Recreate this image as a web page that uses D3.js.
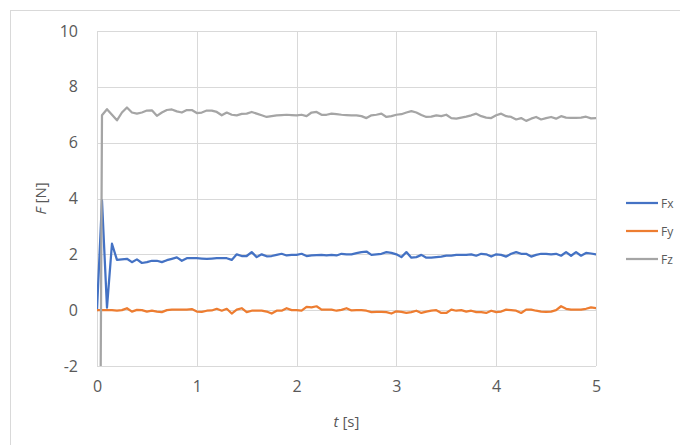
<!DOCTYPE html>
<html>
<head>
<meta charset="utf-8">
<script src="https://cdn.jsdelivr.net/npm/d3@7"></script>
<style>
  html, body { margin: 0; padding: 0; background: #fff; }
  svg { display: block; }
  text { font-family: "Open Sans", "Noto Sans", sans-serif; fill: #595959; }
</style>
</head>
<body>
<svg id="chart" width="680" height="445"></svg>
<script>
// ---- data ----
const time = [
  0.00, 0.05, 0.10, 0.15, 0.20, 0.25, 0.30, 0.35, 0.40, 0.45,
  0.50, 0.55, 0.60, 0.65, 0.70, 0.75, 0.80, 0.85, 0.90, 0.95,
  1.00, 1.05, 1.10, 1.15, 1.20, 1.25, 1.30, 1.35, 1.40, 1.45,
  1.50, 1.55, 1.60, 1.65, 1.70, 1.75, 1.80, 1.85, 1.90, 1.95,
  2.00, 2.05, 2.10, 2.15, 2.20, 2.25, 2.30, 2.35, 2.40, 2.45,
  2.50, 2.55, 2.60, 2.65, 2.70, 2.75, 2.80, 2.85, 2.90, 2.95,
  3.00, 3.05, 3.10, 3.15, 3.20, 3.25, 3.30, 3.35, 3.40, 3.45,
  3.50, 3.55, 3.60, 3.65, 3.70, 3.75, 3.80, 3.85, 3.90, 3.95,
  4.00, 4.05, 4.10, 4.15, 4.20, 4.25, 4.30, 4.35, 4.40, 4.45,
  4.50, 4.55, 4.60, 4.65, 4.70, 4.75, 4.80, 4.85, 4.90, 4.95,
  5.00
];
const fx = [
  0.00, 3.93, 0.09, 2.38, 1.80, 1.82, 1.84, 1.72, 1.82, 1.69,
  1.72, 1.77, 1.77, 1.72, 1.79, 1.84, 1.89, 1.77, 1.86, 1.86,
  1.86, 1.85, 1.84, 1.85, 1.86, 1.86, 1.86, 1.80, 2.00, 1.94,
  1.94, 2.08, 1.90, 2.00, 1.93, 1.94, 1.98, 2.02, 1.96, 1.98,
  1.98, 2.02, 1.94, 1.96, 1.97, 1.98, 1.96, 1.98, 1.96, 2.02,
  2.00, 2.00, 2.04, 2.08, 2.10, 1.98, 2.00, 2.02, 2.08, 2.05,
  2.00, 1.90, 2.08, 1.88, 1.90, 1.98, 1.88, 1.88, 1.90, 1.92,
  1.95, 1.95, 1.98, 1.98, 1.98, 2.00, 1.95, 2.02, 2.00, 1.92,
  2.00, 1.98, 1.92, 2.02, 2.08, 2.02, 2.02, 1.92, 1.98, 2.02,
  2.02, 2.00, 2.02, 1.95, 2.08, 1.95, 2.08, 1.95, 2.05, 2.03,
  2.00
];
const fy = [
  0.00, 0.00, 0.00, 0.00, -0.02, 0.00, 0.07, -0.05, 0.01, 0.00,
  -0.05, -0.02, -0.05, -0.07, 0.00, 0.02, 0.02, 0.02, 0.02, 0.04,
  -0.05, -0.06, -0.02, -0.01, 0.05, -0.02, 0.05, -0.12, 0.02, 0.07,
  -0.07, -0.02, -0.02, -0.02, -0.05, -0.12, -0.02, -0.02, 0.07, 0.00,
  0.00, -0.02, 0.12, 0.10, 0.14, 0.02, 0.02, 0.02, -0.02, 0.01,
  0.07, -0.01, 0.00, 0.00, -0.02, -0.07, -0.06, -0.06, -0.07, -0.12,
  -0.04, -0.06, -0.10, -0.07, -0.02, -0.10, -0.05, -0.02, 0.00, -0.10,
  -0.10, 0.02, -0.02, 0.00, -0.05, -0.02, -0.07, -0.07, -0.10, -0.02,
  -0.07, -0.05, 0.02, 0.00, -0.02, -0.10, 0.02, 0.02, -0.02, -0.05,
  -0.06, -0.05, 0.00, 0.14, 0.05, 0.02, 0.02, 0.02, 0.05, 0.10,
  0.07
];
const fz = [
  -28.0, 6.98, 7.20, 7.00, 6.80, 7.08, 7.26, 7.08, 7.04, 7.08,
  7.15, 7.16, 6.96, 7.08, 7.17, 7.19, 7.12, 7.08, 7.17, 7.17,
  7.06, 7.08, 7.15, 7.15, 7.10, 6.98, 7.08, 7.00, 6.98, 7.03,
  7.04, 7.10, 7.04, 6.98, 6.92, 6.95, 6.98, 6.99, 7.00, 6.99,
  6.98, 7.00, 6.95, 7.08, 7.10, 7.00, 7.00, 7.04, 7.02, 7.00,
  6.99, 6.98, 6.98, 6.95, 6.88, 6.98, 7.00, 7.04, 6.92, 6.95,
  7.00, 7.02, 7.08, 7.13, 7.08, 6.99, 6.92, 6.93, 6.98, 6.95,
  7.00, 6.88, 6.86, 6.90, 6.93, 6.98, 7.04, 6.95, 6.90, 6.88,
  6.98, 7.04, 6.95, 6.92, 6.83, 6.88, 6.78, 6.86, 6.92, 6.83,
  6.88, 6.92, 6.86, 6.95, 6.90, 6.89, 6.89, 6.90, 6.93, 6.87,
  6.88
];
const seriesNames = ["Fx", "Fy", "Fz"];
const seriesColors = ["#4472C4", "#ED7D31", "#A5A5A5"];
const xTicks = [0, 1, 2, 3, 4, 5];
const yTicks = [-2, 0, 2, 4, 6, 8, 10];

// ---- layout ----
const svg = d3.select("#chart");
const plot = { left: 97, right: 596, top: 31, bottom: 366 };
const x = d3.scaleLinear().domain([0, 5]).range([plot.left, plot.right]);
const y = d3.scaleLinear().domain([-2, 10]).range([plot.bottom, plot.top]);
const crisp = v => Math.round(v) + 0.5;

// chart area border (top and left visible)
svg.append("rect")
  .attr("x", 10.5).attr("y", 10.5)
  .attr("width", 700).attr("height", 460)
  .attr("fill", "none").attr("stroke", "#D9D9D9").attr("stroke-width", 1);

// gridlines
const grid = svg.append("g");
grid.selectAll("line.h").data(yTicks).join("line")
  .attr("x1", plot.left).attr("x2", plot.right)
  .attr("y1", d => crisp(y(d))).attr("y2", d => crisp(y(d)))
  .attr("stroke", "#D9D9D9").attr("stroke-width", 1);
grid.selectAll("line.v").data(xTicks).join("line")
  .attr("y1", plot.top).attr("y2", plot.bottom)
  .attr("x1", d => crisp(x(d))).attr("x2", d => crisp(x(d)))
  .attr("stroke", "#D9D9D9").attr("stroke-width", 1);

// axes (labels only, via d3 axis generators)
const plainFmt = d => String(d);
const yAxis = svg.append("g")
  .attr("transform", `translate(${plot.left},0)`)
  .call(d3.axisLeft(y).tickValues(yTicks).tickSize(0).tickPadding(19).tickFormat(plainFmt));
const xAxis = svg.append("g")
  .attr("transform", `translate(0,${plot.bottom})`)
  .call(d3.axisBottom(x).tickValues(xTicks).tickSize(0).tickPadding(15).tickFormat(plainFmt));
[yAxis, xAxis].forEach(g => {
  g.select(".domain").remove();
  g.selectAll("text")
    .style("font-family", '"Open Sans", "Noto Sans", sans-serif')
    .style("font-size", "16px").attr("fill", "#595959");
});

// clip
svg.append("clipPath").attr("id", "plotclip")
  .append("rect")
  .attr("x", plot.left).attr("y", plot.top)
  .attr("width", plot.right - plot.left).attr("height", plot.bottom - plot.top);

const values = [fx, fy, fz];
const line = d3.line().x(d => x(d[0])).y(d => y(d[1]));
const lines = svg.append("g").attr("clip-path", "url(#plotclip)");
values.forEach((vals, i) => {
  lines.append("path")
    .datum(time.map((t, k) => [t, vals[k]]))
    .attr("d", line)
    .attr("fill", "none")
    .attr("stroke", seriesColors[i])
    .attr("stroke-width", 2.25)
    .attr("stroke-linejoin", "round")
    .attr("stroke-linecap", "round");
});

// axis titles
const yTitle = svg.append("text")
  .attr("transform", `translate(46,${(plot.top + plot.bottom) / 2}) rotate(-90)`)
  .attr("text-anchor", "middle")
  .style("font-size", "15px");
yTitle.append("tspan").attr("font-style", "italic").text("F");
yTitle.append("tspan").text(" [N]");

const xTitle = svg.append("text")
  .attr("x", (plot.left + plot.right) / 2)
  .attr("y", 427)
  .attr("text-anchor", "middle")
  .style("font-size", "15px");
xTitle.append("tspan").attr("font-style", "italic").text("t");
xTitle.append("tspan").text(" [s]");

// legend
const legendY = [203, 231, 259];
const legend = svg.append("g");
seriesNames.forEach((name, i) => {
  legend.append("line")
    .attr("x1", 626).attr("x2", 658)
    .attr("y1", legendY[i]).attr("y2", legendY[i])
    .attr("stroke", seriesColors[i]).attr("stroke-width", 2.25);
  legend.append("text")
    .attr("x", 661).attr("y", legendY[i])
    .attr("dominant-baseline", "central")
    .style("font-size", "12px")
    .text(name);
});
</script>
</body>
</html>
